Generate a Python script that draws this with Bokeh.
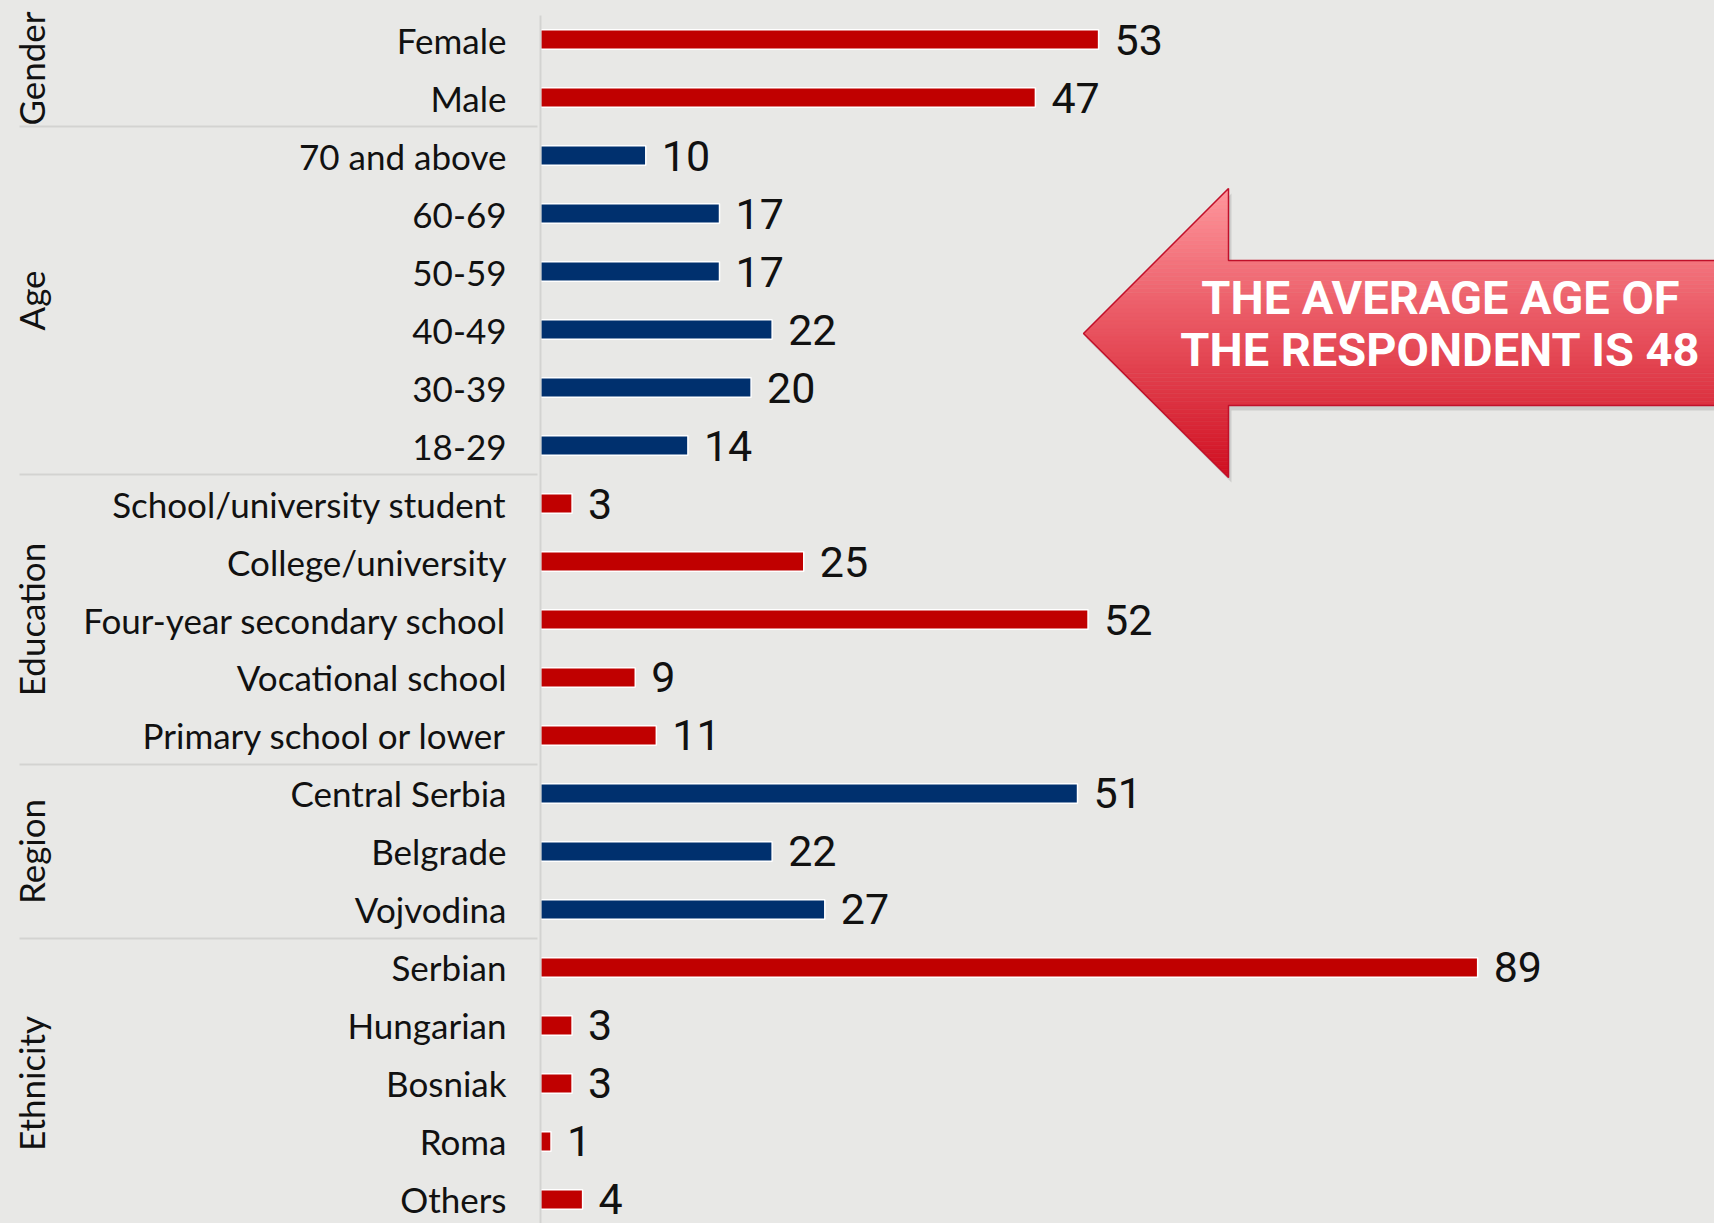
from bokeh.plotting import figure
from bokeh.models import FactorRange, Range1d, ColumnDataSource, LabelSet, Label
from bokeh.core.properties import value
from bokeh.embed import file_html
from bokeh.resources import INLINE

# ---------------- data (top-down order, %) ----------------
group_names = ["Gender", "Age", "Education", "Region", "Ethnicity"]
gender_cats = ["Female", "Male"]
gender_vals = [53, 47]
age_cats = ["70 and above", "60-69", "50-59", "40-49", "30-39", "18-29"]
age_vals = [10, 17, 17, 22, 20, 14]
edu_cats = ["School/university student", "College/university",
            "Four-year secondary school", "Vocational school",
            "Primary school or lower"]
edu_vals = [3, 25, 52, 9, 11]
region_cats = ["Central Serbia", "Belgrade", "Vojvodina"]
region_vals = [51, 22, 27]
eth_cats = ["Serbian", "Hungarian", "Bosniak", "Roma", "Others"]
eth_vals = [89, 3, 3, 1, 4]
group_colors = ["#C00000", "#00306E", "#C00000", "#00306E", "#C00000"]
arrow_text = ["THE AVERAGE AGE OF", "THE RESPONDENT IS 48"]

BG = "#E8E8E6"
LINE = "#D3D3D1"

cats = [gender_cats, age_cats, edu_cats, region_cats, eth_cats]
vals = [gender_vals, age_vals, edu_vals, region_vals, eth_vals]

factors, values, colors = [], [], []
for g, cs, vs, col in zip(group_names, cats, vals, group_colors):
    for c, v in zip(cs, vs):
        factors.append((g, c))
        values.append(v)
        colors.append(col)
factors_bt = factors[::-1]   # bottom-to-top for the y range
n_rows = len(factors)

src = ColumnDataSource(dict(y=factors, v=values, c=colors,
                            t=[str(v) for v in values]))

W, H = 1714, 1223
LEFT = 540
TOP = 15
PAD = -0.086
X_PER_UNIT = 10.53
p = figure(width=W, height=H, output_backend="svg", toolbar_location=None,
           y_range=FactorRange(factors=factors_bt, factor_padding=0,
                               group_padding=0, subgroup_padding=0,
                               range_padding=PAD,
                               range_padding_units="absolute"),
           x_range=Range1d(0, (W - LEFT) / X_PER_UNIT),
           min_border_left=LEFT, min_border_right=0,
           min_border_top=TOP, min_border_bottom=0)
p.background_fill_color = BG
p.border_fill_color = BG
p.outline_line_color = None
p.grid.visible = False
p.xaxis.visible = False

ax = p.yaxis[0]
ax.axis_line_color = LINE
ax.axis_line_width = 2
ax.major_tick_line_color = None
ax.minor_tick_line_color = None
ax.major_label_standoff = 28
ax.major_label_text_font = "Lato"
ax.major_label_text_font_size = "35px"
ax.major_label_text_color = "#111111"
ax.group_text_font = "Lato"
ax.group_text_font_size = "35px"
ax.group_text_font_style = "normal"
ax.group_text_color = "#111111"
ax.separator_line_color = LINE
ax.separator_line_width = 2

p.hbar(y="y", right="v", left=0, height=0.34, source=src,
       fill_color="c", line_color="white", line_width=1.5)

p.add_layout(LabelSet(x="v", y="y", text="t", source=src, x_offset=16,
                      text_baseline="middle", text_align="left",
                      text_font=value("Roboto"),
                      text_font_size="43px", text_color="#111111"))

# ---------------- arrow callout ----------------
# helpers converting page pixels of the callout into plot coordinates
px_per_row = (H - TOP) / (n_rows + 2 * PAD)
syn_top = n_rows + PAD


def ux(px):
    return (px - LEFT) / X_PER_UNIT


def uy(py):
    return syn_top - (py - TOP) / px_per_row


tip_x, tip_y = 1083, 333
head_x, head_top, head_bot = 1228, 188, 477
shaft_top, shaft_bot, right_x = 260, 405, 1730


def left_edge(y):
    if y <= tip_y:
        return head_x - (y - head_top) / (tip_y - head_top) * (head_x - tip_x)
    return tip_x + (y - tip_y) / (head_bot - tip_y) * (head_x - tip_x)


top_rgb = (255, 150, 156)
bot_rgb = (208, 14, 32)
breaks = sorted(set([head_top + i * (head_bot - head_top) / 72 for i in range(73)]
                    + [shaft_top, tip_y, shaft_bot]))
xs, ys, fc = [], [], []
for y0, y1 in zip(breaks[:-1], breaks[1:]):
    if y1 - y0 < 1e-6:
        continue
    ym = (y0 + y1) / 2
    xr = right_x if shaft_top <= ym <= shaft_bot else head_x
    xs.append([ux(v) for v in [left_edge(y0), xr, xr, left_edge(y1)]])
    ys.append([uy(v) for v in [y0, y0, y1, y1]])
    f = (ym - head_top) / (head_bot - head_top)
    r, g, b = [int(round(a + (c - a) * f)) for a, c in zip(top_rgb, bot_rgb)]
    fc.append("#%02x%02x%02x" % (r, g, b))

outline_x = [tip_x, head_x, head_x, right_x, right_x, head_x, head_x]
outline_y = [tip_y, head_top, shaft_top, shaft_top, shaft_bot, shaft_bot, head_bot]

p.patch([ux(x + 3) for x in outline_x], [uy(y + 5) for y in outline_y],
        fill_color="#9a9a9a", fill_alpha=0.35, line_color=None)
p.patches(xs, ys, fill_color=fc, line_color=fc, line_width=0.6)
p.patch([ux(x) for x in outline_x], [uy(y) for y in outline_y],
        fill_color=None, line_color="#C0102A", line_width=1.5)

for txt, ty in zip(arrow_text, [297, 349]):
    p.add_layout(Label(x=ux(1440), y=uy(ty),
                       text=txt, text_align="center", text_baseline="middle",
                       text_font="Roboto", text_font_style="bold",
                       text_font_size="47px", text_color="white"))

html = file_html(p, INLINE)
html = html.replace("</head>", "<style>html,body{background:%s;}</style></head>" % BG, 1)
open("out.html", "w").write(html)
